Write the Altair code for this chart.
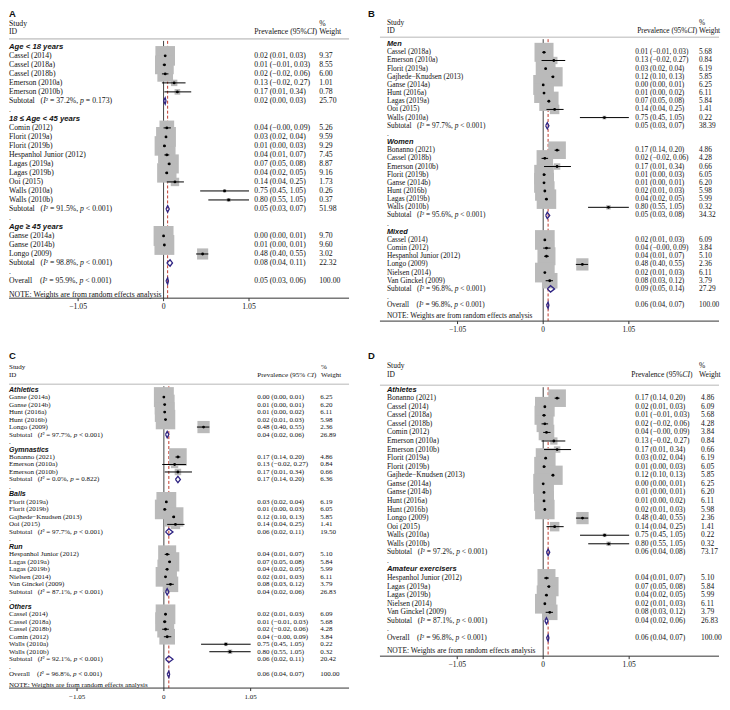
import re
import altair as alt
import pandas as pd

NOTE = "NOTE: Weights are from random effects analysis"
TICKS = [-1.05, 0, 1.05]

# ---------------- Panel A : age ----------------
A_labels = [
    "Age < 18 years",
    "Cassel (2014)", "Cassel (2018a)", "Cassel (2018b)", "Emerson (2010a)", "Emerson (2010b)",
    "Subtotal   (I² = 37.2%, p = 0.173)", ".",
    "18 ≤ Age < 45 years",
    "Comin (2012)", "Florit (2019a)", "Florit (2019b)", "Hespanhol Junior (2012)", "Lagas (2019a)",
    "Lagas (2019b)", "Ooi (2015)", "Walls (2010a)", "Walls (2010b)",
    "Subtotal   (I² = 91.5%, p < 0.001)", ".",
    "Age ≥ 45 years",
    "Ganse (2014a)", "Ganse (2014b)", "Longo (2009)",
    "Subtotal   (I² = 98.8%, p < 0.001)", ".",
    "Overall    (I² = 95.9%, p < 0.001)",
]
A_kind = "g" + "s" * 5 + "tb" + "g" + "s" * 9 + "tb" + "g" + "s" * 3 + "tb" + "o"
A_est = [None, 0.02, 0.01, 0.02, 0.13, 0.17, 0.02, None,
         None, 0.04, 0.03, 0.01, 0.04, 0.07, 0.04, 0.14, 0.75, 0.80, 0.05, None,
         None, 0.00, 0.01, 0.48, 0.08, None, 0.05]
A_lo = [None, 0.01, -0.01, -0.02, -0.02, 0.01, 0.00, None,
        None, -0.0, 0.02, 0.00, 0.01, 0.05, 0.02, 0.04, 0.45, 0.55, 0.03, None,
        None, 0.00, 0.00, 0.40, 0.04, None, 0.03]
A_hi = [None, 0.03, 0.03, 0.06, 0.27, 0.34, 0.03, None,
        None, 0.09, 0.04, 0.03, 0.07, 0.08, 0.05, 0.25, 1.05, 1.05, 0.07, None,
        None, 0.01, 0.01, 0.55, 0.11, None, 0.06]
A_wt = [None, 9.37, 8.55, 6.00, 1.01, 0.78, 25.70, None,
        None, 5.26, 9.59, 9.29, 7.45, 8.87, 9.16, 1.73, 0.26, 0.37, 51.98, None,
        None, 9.70, 9.60, 3.02, 22.32, None, 100.00]

# ---------------- Panel B : sex ----------------
B_labels = [
    "Men",
    "Cassel (2018a)", "Emerson (2010a)", "Florit (2019a)", "Gajhede−Knudsen (2013)", "Ganse (2014a)",
    "Hunt (2016a)", "Lagas (2019a)", "Ooi (2015)", "Walls (2010a)",
    "Subtotal   (I² = 97.7%, p < 0.001)", ".",
    "Women",
    "Bonanno (2021)", "Cassel (2018b)", "Emerson (2010b)", "Florit (2019b)", "Ganse (2014b)",
    "Hunt (2016b)", "Lagas (2019b)", "Walls (2010b)",
    "Subtotal   (I² = 95.6%, p < 0.001)", ".",
    "Mixed",
    "Cassel (2014)", "Comin (2012)", "Hespanhol Junior (2012)", "Longo (2009)", "Nielsen (2014)",
    "Van Ginckel (2009)",
    "Subtotal   (I² = 96.8%, p < 0.001)", ".",
    "Overall    (I² = 96.8%, p < 0.001)",
]
B_kind = "g" + "s" * 9 + "tb" + "g" + "s" * 8 + "tb" + "g" + "s" * 6 + "tb" + "o"
B_est = [None, 0.01, 0.13, 0.03, 0.12, 0.00, 0.01, 0.07, 0.14, 0.75, 0.05, None,
         None, 0.17, 0.02, 0.17, 0.01, 0.01, 0.02, 0.04, 0.80, 0.05, None,
         None, 0.02, 0.04, 0.04, 0.48, 0.02, 0.08, 0.09, None, 0.06]
B_lo = [None, -0.01, -0.02, 0.02, 0.10, 0.00, 0.00, 0.05, 0.04, 0.45, 0.03, None,
        None, 0.14, -0.02, 0.01, 0.00, 0.00, 0.01, 0.02, 0.55, 0.03, None,
        None, 0.01, -0.0, 0.01, 0.40, 0.01, 0.03, 0.05, None, 0.04]
B_hi = [None, 0.03, 0.27, 0.04, 0.13, 0.01, 0.02, 0.08, 0.25, 1.05, 0.07, None,
        None, 0.20, 0.06, 0.34, 0.03, 0.01, 0.03, 0.05, 1.05, 0.08, None,
        None, 0.03, 0.09, 0.07, 0.55, 0.03, 0.12, 0.14, None, 0.07]
B_wt = [None, 5.68, 0.84, 6.19, 5.85, 6.25, 6.11, 5.84, 1.41, 0.22, 38.39, None,
        None, 4.86, 4.28, 0.66, 6.05, 6.20, 5.98, 5.99, 0.32, 34.32, None,
        None, 6.09, 3.84, 5.10, 2.36, 6.11, 3.79, 27.29, None, 100.00]

# ---------------- Panel C : sport ----------------
C_labels = [
    "Athletics",
    "Ganse (2014a)", "Ganse (2014b)", "Hunt (2016a)", "Hunt (2016b)", "Longo (2009)",
    "Subtotal   (I² = 97.7%, p < 0.001)", ".",
    "Gymnastics",
    "Bonanno (2021)", "Emerson (2010a)", "Emerson (2010b)",
    "Subtotal   (I² = 0.0%, p = 0.822)", ".",
    "Balls",
    "Florit (2019a)", "Florit (2019b)", "Gajhede−Knudsen (2013)", "Ooi (2015)",
    "Subtotal   (I² = 97.7%, p < 0.001)", ".",
    "Run",
    "Hespanhol Junior (2012)", "Lagas (2019a)", "Lagas (2019b)", "Nielsen (2014)", "Van Ginckel (2009)",
    "Subtotal   (I² = 87.1%, p < 0.001)", ".",
    "Others",
    "Cassel (2014)", "Cassel (2018a)", "Cassel (2018b)", "Comin (2012)", "Walls (2010a)", "Walls (2010b)",
    "Subtotal   (I² = 92.1%, p < 0.001)", ".",
    "Overall    (I² = 96.8%, p < 0.001)",
]
C_kind = ("g" + "s" * 5 + "tb" + "g" + "s" * 3 + "tb" + "g" + "s" * 4 + "tb"
          + "g" + "s" * 5 + "tb" + "g" + "s" * 6 + "tb" + "o")
C_est = [None, 0.00, 0.01, 0.01, 0.02, 0.48, 0.04, None,
         None, 0.17, 0.13, 0.17, 0.17, None,
         None, 0.03, 0.01, 0.12, 0.14, 0.06, None,
         None, 0.04, 0.07, 0.04, 0.02, 0.08, 0.04, None,
         None, 0.02, 0.01, 0.02, 0.04, 0.75, 0.80, 0.06, None, 0.06]
C_lo = [None, 0.00, 0.00, 0.00, 0.01, 0.40, 0.02, None,
        None, 0.14, -0.02, 0.01, 0.14, None,
        None, 0.02, 0.00, 0.10, 0.04, 0.02, None,
        None, 0.01, 0.05, 0.02, 0.01, 0.03, 0.02, None,
        None, 0.01, -0.01, -0.02, -0.0, 0.45, 0.55, 0.02, None, 0.04]
C_hi = [None, 0.01, 0.01, 0.02, 0.03, 0.55, 0.06, None,
        None, 0.20, 0.27, 0.34, 0.20, None,
        None, 0.04, 0.03, 0.13, 0.25, 0.11, None,
        None, 0.07, 0.08, 0.05, 0.03, 0.12, 0.06, None,
        None, 0.03, 0.03, 0.06, 0.09, 1.05, 1.05, 0.11, None, 0.07]
C_wt = [None, 6.25, 6.20, 6.11, 5.98, 2.36, 26.89, None,
        None, 4.86, 0.84, 0.66, 6.36, None,
        None, 6.19, 6.05, 5.85, 1.41, 19.50, None,
        None, 5.10, 5.84, 5.99, 6.11, 3.79, 26.83, None,
        None, 6.09, 5.68, 4.28, 3.84, 0.22, 0.32, 20.42, None, 100.00]

# ---------------- Panel D : population ----------------
D_labels = [
    "Athletes",
    "Bonanno (2021)", "Cassel (2014)", "Cassel (2018a)", "Cassel (2018b)", "Comin (2012)",
    "Emerson (2010a)", "Emerson (2010b)", "Florit (2019a)", "Florit (2019b)", "Gajhede−Knudsen (2013)",
    "Ganse (2014a)", "Ganse (2014b)", "Hunt (2016a)", "Hunt (2016b)", "Longo (2009)", "Ooi (2015)",
    "Walls (2010a)", "Walls (2010b)",
    "Subtotal   (I² = 97.2%, p < 0.001)", ".",
    "Amateur exercisers",
    "Hespanhol Junior (2012)", "Lagas (2019a)", "Lagas (2019b)", "Nielsen (2014)", "Van Ginckel (2009)",
    "Subtotal   (I² = 87.1%, p < 0.001)", ".",
    "Overall    (I² = 96.8%, p < 0.001)",
]
D_kind = "g" + "s" * 18 + "tb" + "g" + "s" * 5 + "tb" + "o"
D_est = [None, 0.17, 0.02, 0.01, 0.02, 0.04, 0.13, 0.17, 0.03, 0.01, 0.12, 0.00, 0.01, 0.01, 0.02,
         0.48, 0.14, 0.75, 0.80, 0.06, None,
         None, 0.04, 0.07, 0.04, 0.02, 0.08, 0.04, None, 0.06]
D_lo = [None, 0.14, 0.01, -0.01, -0.02, -0.0, -0.02, 0.01, 0.02, 0.00, 0.10, 0.00, 0.00, 0.00, 0.01,
        0.40, 0.04, 0.45, 0.55, 0.04, None,
        None, 0.01, 0.05, 0.02, 0.01, 0.03, 0.02, None, 0.04]
D_hi = [None, 0.20, 0.03, 0.03, 0.06, 0.09, 0.27, 0.34, 0.04, 0.03, 0.13, 0.01, 0.01, 0.02, 0.03,
        0.55, 0.25, 1.05, 1.05, 0.08, None,
        None, 0.07, 0.08, 0.05, 0.03, 0.12, 0.06, None, 0.07]
D_wt = [None, 4.86, 6.09, 5.68, 4.28, 3.84, 0.84, 0.66, 6.19, 6.05, 5.85, 6.25, 6.20, 6.11, 5.98,
        2.36, 1.41, 0.22, 0.32, 73.17, None,
        None, 5.10, 5.84, 5.99, 6.11, 3.79, 26.83, None, 100.00]

# ---------------- layout (pixels inside each panel) ----------------
LAYOUT = {
    "A": dict(W=341, H=290, zero=155.0, ppu=81.6, fs=7.75, first=38.0, pitch=9.03, hline=30.0,
              study_y=15.5, id_y=23.5, note_y=287, lab_x=0, est_x=246, wt_x=311, prev_x=246, pct_x=311,
              letter_x=0, prev="Prevalence (95%CI)"),
    "B": dict(W=340, H=313, zero=163.7, ppu=81.8, fs=7.4, first=35.3, pitch=8.18, hline=28.3,
              study_y=14.5, id_y=22.5, note_y=308, lab_x=7, est_x=256, wt_x=320, prev_x=258, pct_x=320,
              letter_x=-12, prev="Prevalence (95%CI)"),
    "C": dict(W=341, H=338, zero=155.3, ppu=82.9, fs=7.05, first=38.7, pitch=7.51, hline=33.3,
              study_y=16, id_y=24.5, note_y=335, lab_x=0, est_x=249, wt_x=312, prev_x=249, pct_x=313,
              letter_x=0, prev="Prevalence (95% CI)"),
    "D": dict(W=340, H=306, zero=163.7, ppu=82.1, fs=7.55, first=38.7, pitch=8.59, hline=34.3,
              study_y=15, id_y=24, note_y=301, lab_x=7, est_x=256, wt_x=322, prev_x=252, pct_x=320,
              letter_x=-12, prev="Prevalence (95%CI)"),
}

SERIF = "Liberation Serif"
SANS = "Liberation Sans"
BOX = "#bababa"
NAVY = "#2f2483"
RED = "#c0392b"
AXIS = "#333333"

# Times / Liberation Serif advance widths (per 1000 em)
TW = {" ": 250, "(": 333, ")": 333, ",": 250, ".": 250, "%": 833, "=": 564, "<": 564, ">": 564,
      "²": 300, "S": 556, "u": 500, "b": 500, "t": 278, "o": 500, "a": 444, "l": 278, "O": 722,
      "v": 500, "e": 444, "r": 333, "P": 556, "n": 500, "c": 444, "C": 667, "I": 333, "p": 500}


def runs(s, italic_idx):
    """Split text into space-free runs with their em offsets and italic flag."""
    out, x, cur, cur_it, cur_x = [], 0.0, "", False, 0.0
    for i, ch in enumerate(s):
        it = i in italic_idx
        if ch == " ":
            if cur:
                out.append((cur, cur_it, cur_x))
                cur = ""
        else:
            if cur and it != cur_it:
                out.append((cur, cur_it, cur_x))
                cur = ""
            if not cur:
                cur_x, cur_it = x, it
            cur += ch
        x += TW.get(ch, 500)
    if cur:
        out.append((cur, cur_it, cur_x))
    return [(t, it, off / 1000.0) for t, it, off in out]


def f2(v):
    return f"{v:.2f}".replace("-", "\u2212")


def tick_label(v):
    return "0" if v == 0 else f2(v)


def panel(letter, labels, kind, est, lo, hi, wt):
    L = LAYOUT[letter]
    W, H, fs = L["W"], L["H"], L["fs"]
    zero, ppu, first, pitch = L["zero"], L["ppu"], L["first"], L["pitch"]
    xL, xR = -zero / ppu, (W - zero) / ppu
    xs = alt.Scale(domain=[xL, xR], nice=False, zero=False)
    ys = alt.Scale(domain=[-first / pitch, (H - first) / pitch], reverse=True, nice=False, zero=False)

    def px(p):
        return xL + p / ppu

    def rv(y):
        return (y - first) / pitch

    txt = []

    def put(xpix, row, text, st="n"):
        txt.append({"xd": px(xpix), "rv": row, "text": text, "st": st})

    put(L["lab_x"], rv(L["study_y"]), "Study")
    put(L["lab_x"], rv(L["id_y"]), "ID")
    put(L["pct_x"], rv(L["study_y"]), "%")
    put(L["pct_x"], rv(L["id_y"]), "Weight")
    ptxt = L["prev"]
    ci = ptxt.index("CI")
    for t, it, off in runs(ptxt, {ci, ci + 1}):
        put(L["prev_x"] + off * fs, rv(L["id_y"]), t, "i" if it else "n")

    studies, diamonds = [], []
    ov = None
    for i, (lab, k) in enumerate(zip(labels, kind)):
        if k == "g":
            put(L["lab_x"], i, lab, "g")
        elif k == "b":
            put(L["lab_x"], i, lab)
        elif k == "s":
            put(L["lab_x"], i, lab)
            studies.append({"row": i, "est": est[i], "lo": lo[i], "hi": hi[i], "wt": wt[i]})
        else:
            idx = {m.start(1) for m in re.finditer(r"\((I)", lab)}
            idx |= {m.start(1) for m in re.finditer(r", (p) ", lab)}
            for t, it, off in runs(lab, idx):
                put(L["lab_x"] + off * fs, i, t, "i" if it else "n")
            hh = 3.2 / pitch
            pts = [(lo[i], i), (est[i], i - hh), (hi[i], i), (est[i], i + hh), (lo[i], i)]
            for kk, (dx, dy) in enumerate(pts):
                diamonds.append({"g": i, "k": kk, "dx": dx, "dy": dy})
            if k == "o":
                ov = est[i]
        if k in "sto":
            put(L["est_x"], i, f"{f2(est[i])} ({f2(lo[i])}, {f2(hi[i])})")
            put(L["wt_x"], i, f"{wt[i]:.2f}")
    put(L["lab_x"], rv(L["note_y"]), NOTE)

    sdf = pd.DataFrame(studies)
    ddf = pd.DataFrame(diamonds)
    tdf = pd.DataFrame(txt)
    tk = pd.DataFrame({"t": TICKS, "lab": [tick_label(v) for v in TICKS]})
    one = pd.DataFrame({"z": [0.0], "ov": [ov]})
    maxw = max(s["wt"] for s in studies)

    def X(f):
        return alt.X(f, type="quantitative", scale=xs, axis=None)

    def Y(f):
        return alt.Y(f, type="quantitative", scale=ys, axis=None)

    layers = [
        alt.Chart(one).mark_rule(color="#cfcfcf", strokeWidth=1.6).encode(
            x=alt.value(0), x2=alt.value(W), y=alt.value(L["hline"])),
        alt.Chart(one).mark_rule(color="#444444", strokeWidth=1).encode(
            x=X("z"), y=alt.value(L["hline"] + 2), y2=alt.value(H)),
        alt.Chart(one).mark_rule(color=RED, strokeWidth=1, strokeDash=[3, 2]).encode(
            x=X("ov"), y=alt.value(L["hline"] + 2), y2=alt.value(H)),
        # x axis: domain line, ticks and labels through the x scale
        alt.Chart(one).mark_rule(color=AXIS, strokeWidth=1).encode(
            x=alt.value(0), x2=alt.value(W), y=alt.value(H)),
        alt.Chart(tk).mark_rule(color=AXIS, strokeWidth=1).encode(
            x=X("t"), y=alt.value(H), y2=alt.value(H + 3)),
        alt.Chart(tk).mark_text(align="center", baseline="top", font=SERIF, fontSize=fs,
                                color="#111111").encode(
            x=X("t"), y=alt.value(H + 5), text="lab:N"),
        alt.Chart(sdf).mark_square(color=BOX, opacity=1).encode(
            x=X("est"), y=Y("row"),
            size=alt.Size("wt:Q", scale=alt.Scale(domain=[0, maxw], range=[0, 400]), legend=None)),
        alt.Chart(sdf).mark_rule(color="black", strokeWidth=1).encode(
            x=X("lo"), x2="hi", y=Y("row")),
        alt.Chart(sdf).mark_point(filled=True, shape="circle", size=8, color="black", opacity=1).encode(
            x=X("est"), y=Y("row")),
        alt.Chart(ddf).mark_line(color=NAVY, strokeWidth=1.3).encode(
            x=X("dx"), y=Y("dy"), order="k:Q", detail="g:N"),
    ]
    styles = {
        "n": dict(font=SERIF),
        "i": dict(font=SERIF, fontStyle="italic"),
        "g": dict(font=SANS, fontStyle="italic", fontWeight="bold"),
    }
    for st, kw in styles.items():
        sub = tdf[tdf["st"] == st]
        if len(sub):
            layers.append(alt.Chart(sub).mark_text(
                align="left", baseline="middle", fontSize=fs, color="#111111", **kw).encode(
                x=X("xd"), y=Y("rv"), text="text:N"))
    layers.append(alt.Chart(one).mark_text(
        align="left", baseline="top", font=SANS, fontWeight="bold", fontSize=9.5, color="#111111").encode(
        x=alt.value(L["letter_x"]), y=alt.value(0), text=alt.value(letter)))
    return alt.layer(*layers).properties(width=W, height=H)


pA = panel("A", A_labels, A_kind, A_est, A_lo, A_hi, A_wt)
pB = panel("B", B_labels, B_kind, B_est, B_lo, B_hi, B_wt)
pC = panel("C", C_labels, C_kind, C_est, C_lo, C_hi, C_wt)
pD = panel("D", D_labels, D_kind, D_est, D_lo, D_hi, D_wt)

chart = alt.concat(
    pA, pB, pC, pD, columns=2, spacing={"row": 30, "column": 31}, bounds="flush", padding=0
).resolve_scale(
    x="independent", y="independent", size="independent"
).configure_view(strokeWidth=0)

chart.save("out.html", embed_options={"renderer": "svg", "actions": False})
